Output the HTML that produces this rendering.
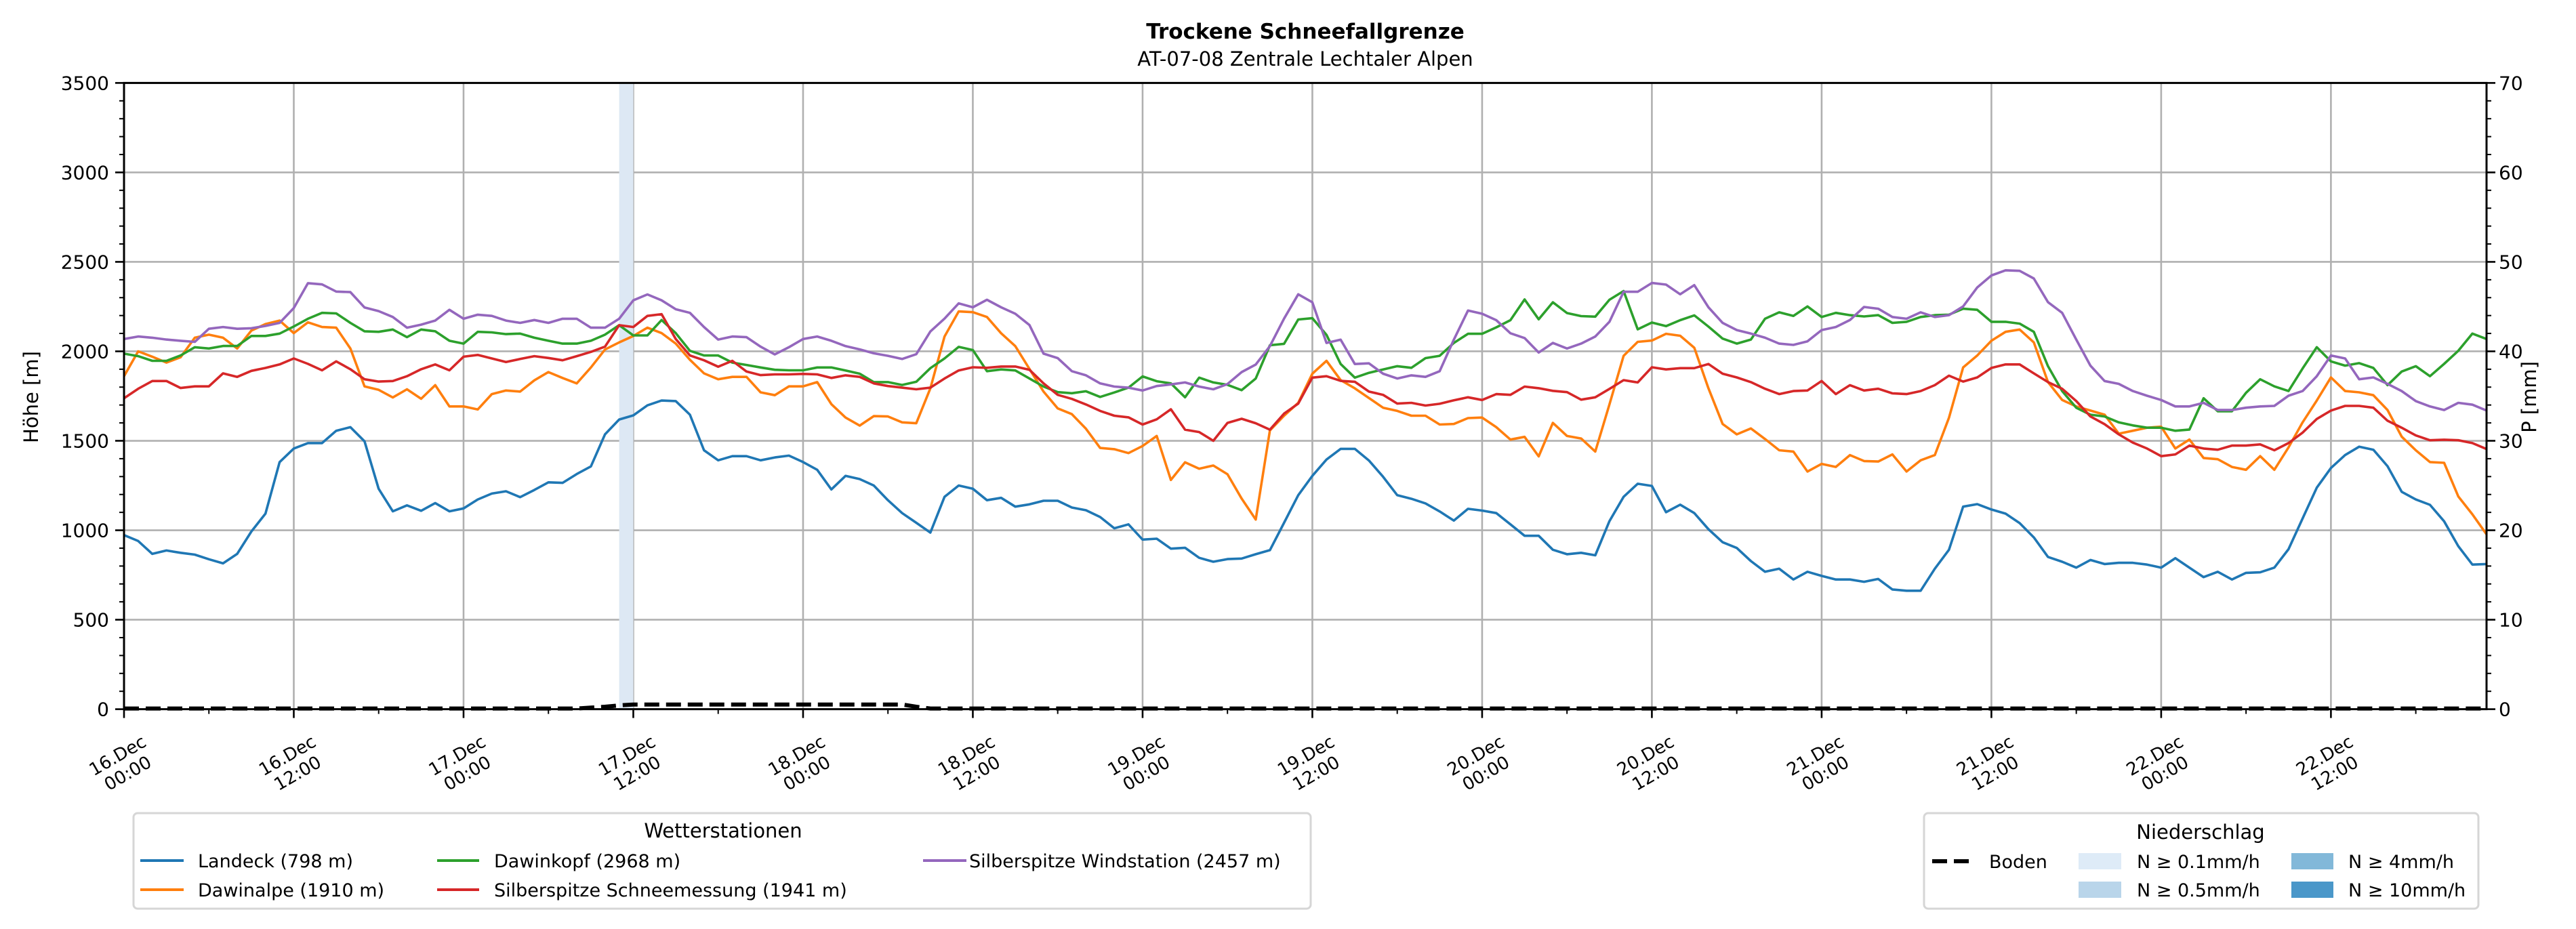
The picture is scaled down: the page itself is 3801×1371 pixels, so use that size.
<!DOCTYPE html>
<html><head><meta charset="utf-8">
<style>
html,body{margin:0;padding:0;background:#fff;}
svg{display:block;font-family:"DejaVu Sans","Liberation Sans",sans-serif;}
</style></head>
<body>
<svg id="chart" width="3801" height="1371" viewBox="0 0 3801 1371" xmlns="http://www.w3.org/2000/svg">
<rect x="0" y="0" width="3801" height="1371" fill="#fff"/>
<text x="1926" y="57" text-anchor="middle" font-size="31" font-weight="bold">Trockene Schneefallgrenze</text>
<text x="1926" y="97" text-anchor="middle" font-size="29">AT-07-08 Zentrale Lechtaler Alpen</text>
<g id="grid"></g>
<g id="precip"></g>
<g id="series"></g>
<g id="axes"></g>
<text transform="translate(56,586) rotate(-90)" text-anchor="middle" font-size="29">Höhe [m]</text>
<text transform="translate(3742,586) rotate(-90)" text-anchor="middle" font-size="29">P [mm]</text>

<g>
<rect x="197" y="1200" width="1737" height="141" rx="6" fill="#fff" stroke="#d6d6d6" stroke-width="3"/>
<text x="1067" y="1236" text-anchor="middle" font-size="29">Wetterstationen</text>
<g><line x1="207" y1="1270" x2="271" y2="1270" stroke="#1f77b4" stroke-width="4"/><text x="292" y="1280" font-size="27">Landeck (798 m)</text></g>
<g><line x1="207" y1="1313" x2="271" y2="1313" stroke="#ff7f0e" stroke-width="4"/><text x="292" y="1323" font-size="27">Dawinalpe (1910 m)</text></g>
<g><line x1="645" y1="1270" x2="707" y2="1270" stroke="#2ca02c" stroke-width="4"/><text x="729" y="1280" font-size="27">Dawinkopf (2968 m)</text></g>
<g><line x1="645" y1="1313" x2="707" y2="1313" stroke="#d62728" stroke-width="4"/><text x="729" y="1323" font-size="27">Silberspitze Schneemessung (1941 m)</text></g>
<g><line x1="1362" y1="1270" x2="1426" y2="1270" stroke="#9467bd" stroke-width="4"/><text x="1430" y="1280" font-size="27">Silberspitze Windstation (2457 m)</text></g>
</g>

<g>
<rect x="2839" y="1200" width="818" height="141" rx="6" fill="#fff" stroke="#d6d6d6" stroke-width="3"/>
<text x="3247" y="1238" text-anchor="middle" font-size="29">Niederschlag</text>
<g><line x1="2851" y1="1271" x2="2908" y2="1271" stroke="#000" stroke-width="6" stroke-dasharray="22 10"/><text x="2935" y="1281" font-size="27">Boden</text></g>
<g><rect x="3067" y="1259" width="63" height="24" fill="#deebf7"/><text x="3153" y="1281" font-size="27">N ≥ 0.1mm/h</text></g>
<g><rect x="3067" y="1301" width="63" height="24" fill="#b9d5ea"/><text x="3153" y="1323" font-size="27">N ≥ 0.5mm/h</text></g>
<g><rect x="3381" y="1259" width="62" height="24" fill="#82b8d9"/><text x="3465" y="1281" font-size="27">N ≥ 4mm/h</text></g>
<g><rect x="3381" y="1301" width="62" height="24" fill="#4a97c9"/><text x="3465" y="1323" font-size="27">N ≥ 10mm/h</text></g>
</g>
</svg>
<script>
// ---- data (hourly, starting 16.Dec 00:00) ----
const xTickLabels = ["16.Dec|00:00","16.Dec|12:00","17.Dec|00:00","17.Dec|12:00","18.Dec|00:00","18.Dec|12:00","19.Dec|00:00","19.Dec|12:00","20.Dec|00:00","20.Dec|12:00","21.Dec|00:00","21.Dec|12:00","22.Dec|00:00","22.Dec|12:00"];
const yTicks = [0,500,1000,1500,2000,2500,3000,3500];
const y2Ticks = [0,10,20,30,40,50,60,70];
const landeck = [973,940,868,887,874,864,838,815,868,993,1093,1381,1457,1487,1487,1556,1576,1497,1232,1106,1139,1109,1152,1106,1122,1172,1205,1218,1185,1225,1268,1265,1314,1357,1536,1619,1642,1698,1725,1722,1646,1447,1391,1414,1414,1391,1407,1417,1381,1338,1228,
1304,1286,1250,1168,1096,1042,987,1187,1250,1232,1168,1181,1132,1145,1165,1165,1127,1112,1074,1011,1033,948,953,897,902,846,824,839,842,866,889,1042,1196,1304,1395,1455,1455,1390,1299,1196,1176,1150,1105,1054,1120,1110,1096,1033,969,969,891,866,874,860,1051,1187,1260,1248,1101,1143,1096,1006,933,
901,828,768,785,725,768,745,725,725,712,728,669,662,662,785,891,1132,1146,1116,1093,1040,960,851,824,791,834,811,818,818,808,791,844,791,738,768,725,762,765,791,894,1066,1238,1348,1420,1467,1450,1358,1215,1172,1142,1050,911,808,811];
const dawinalpe = [1861,2000,1970,1937,1967,2076,2093,2076,2016,2116,2152,2172,2102,2162,2136,2132,2016,1804,1785,1742,1788,1735,1811,1692,1692,1675,1761,1781,1775,1838,1884,1851,1821,1910,2010,2050,2086,2132,2102,2043,1953,1877,1844,1857,1857,1771,1755,1804,1804,1828,1705,
1630,1585,1638,1636,1603,1598,1793,2083,2223,2219,2192,2101,2029,1902,1775,1681,1649,1567,1460,1453,1431,1471,1527,1281,1380,1344,1362,1313,1177,1060,1558,1640,1712,1875,1947,1839,1793,1739,1685,1667,1640,1640,1591,1594,1627,1630,1576,1507,1522,1413,1600,1527,1513,1440,1703,1975,2053,2060,2098,2087,2020,1793,1594,
1536,1569,1510,1447,1440,1328,1371,1354,1420,1387,1384,1424,1328,1391,1420,1629,1910,1977,2059,2109,2122,2050,1828,1728,1692,1669,1646,1540,1556,1573,1579,1457,1507,1404,1397,1354,1338,1414,1338,1463,1603,1725,1854,1778,1771,1755,1672,1523,1447,1381,1377,1189,1089,977];
const dawinkopf = [1987,1973,1947,1947,1977,2023,2016,2030,2030,2086,2086,2099,2139,2182,2215,2212,2159,2112,2109,2122,2079,2122,2112,2059,2043,2109,2106,2096,2099,2076,2059,2043,2043,2059,2093,2146,2089,2089,2175,2102,2003,1977,1977,1937,1924,1910,1897,1894,1894,1910,1910,
1893,1875,1828,1828,1812,1830,1906,1960,2025,2007,1889,1899,1893,1848,1803,1772,1766,1777,1745,1770,1797,1860,1833,1821,1743,1853,1826,1813,1783,1848,2034,2042,2178,2185,2092,1929,1853,1880,1899,1917,1908,1962,1975,2047,2098,2098,2134,2174,2290,2179,2274,2214,2197,2194,2288,2337,2123,2161,2141,2174,2201,2138,2071,
2043,2066,2182,2218,2198,2251,2192,2215,2202,2195,2202,2159,2165,2192,2202,2205,2238,2232,2165,2165,2155,2109,1917,1778,1685,1646,1636,1603,1586,1573,1573,1556,1563,1738,1665,1665,1768,1844,1804,1778,1904,2023,1944,1920,1934,1907,1811,1887,1917,1861,1930,2003,2099,2069];
const silberSchnee = [1738,1791,1834,1834,1795,1804,1804,1877,1857,1891,1907,1927,1960,1930,1894,1944,1900,1844,1831,1834,1861,1900,1927,1894,1970,1980,1960,1940,1957,1973,1963,1950,1973,1997,2026,2146,2136,2198,2208,2069,1977,1950,1914,1947,1887,1867,1871,1871,1874,1871,1851,
1866,1857,1821,1806,1797,1788,1797,1848,1893,1911,1908,1915,1915,1897,1821,1757,1734,1703,1667,1640,1631,1591,1620,1676,1562,1549,1500,1600,1623,1598,1562,1652,1708,1853,1861,1835,1830,1775,1757,1708,1712,1697,1707,1726,1743,1728,1761,1757,1803,1794,1779,1772,1730,1743,1790,1839,1826,1911,1899,1906,1906,1929,1875,
1854,1828,1791,1761,1778,1781,1834,1761,1811,1781,1791,1765,1761,1778,1811,1864,1831,1854,1907,1927,1927,1877,1828,1791,1722,1636,1593,1536,1490,1457,1414,1424,1473,1457,1450,1473,1473,1480,1447,1487,1546,1622,1669,1695,1695,1685,1612,1573,1530,1503,1506,1503,1487,1454];
const silberWind = [2069,2083,2076,2066,2059,2053,2126,2136,2126,2129,2142,2159,2242,2381,2374,2334,2331,2245,2225,2192,2132,2149,2172,2232,2182,2205,2198,2172,2159,2175,2159,2182,2182,2132,2132,2182,2285,2318,2285,2235,2215,2136,2066,2083,2079,2026,1983,2023,2069,2083,2059,
2029,2011,1989,1975,1957,1984,2111,2183,2268,2246,2288,2246,2210,2147,1987,1962,1889,1866,1821,1803,1797,1781,1806,1815,1826,1803,1788,1817,1884,1926,2029,2183,2319,2274,2047,2065,1929,1933,1875,1848,1866,1857,1889,2065,2228,2210,2174,2101,2074,1993,2047,2016,2043,2083,2165,2333,2333,2382,2373,2319,2370,2246,2159,
2119,2099,2076,2043,2036,2056,2119,2136,2175,2248,2238,2192,2182,2218,2192,2202,2251,2357,2424,2453,2450,2407,2275,2215,2066,1920,1834,1818,1778,1752,1728,1692,1692,1712,1672,1672,1685,1692,1695,1752,1778,1861,1977,1960,1844,1854,1818,1778,1722,1692,1672,1712,1702,1669];
const boden = [0,0,0,0,0,0,0,0,0,0,0,0,0,0,0,0,0,0,0,0,0,0,0,0,0,0,0,0,0,0,0,0,0,0.1,0.2,0.35,0.45,0.45,0.45,0.45,0.45,0.45,0.45,0.45,0.45,0.45,0.45,0.45,0.45,0.45,0.45,0.45,0.45,0.45,0.45,0.45,0.2];
const precipHourly = {35:0.2};

// ---- layout ----
const L=183, R=3669, T=122.4, B=1046.6, XMAX=167;
const NS="http://www.w3.org/2000/svg";
const xs = h => L + (R-L)*h/XMAX;
const ys = v => B - (B-T)*v/3500;
const y2s = v => B - (B-T)*v/70;
function mk(tag, attrs, parent){const e=document.createElementNS(NS,tag);for(const k in attrs)e.setAttribute(k,attrs[k]);parent.appendChild(e);return e;}
const grid=document.getElementById('grid'), axes=document.getElementById('axes'), series=document.getElementById('series'), precip=document.getElementById('precip');

// gridlines
yTicks.forEach(v=>{const g=mk('line',{x1:L,x2:R,y1:ys(v),y2:ys(v),stroke:'#b0b0b0','stroke-width':2.6},grid);

});
xTickLabels.forEach((lab,i)=>{const g=mk('line',{x1:xs(i*12),x2:xs(i*12),y1:T,y2:B,stroke:'#b0b0b0','stroke-width':2.6},grid);

});

// precipitation shading
const pColor = p => p>=10?'#4a97c9':p>=4?'#82b8d9':p>=0.5?'#b9d5ea':'#dde8f4';
Object.keys(precipHourly).forEach(k=>{const h=+k,p=precipHourly[k]; if(p<0.1)return;
const r=mk('rect',{x:xs(h),y:T,width:xs(h+1)-xs(h),height:B-T,fill:pColor(p)},precip);

});

// series
function line(arr, color, name){const pts=arr.map((v,i)=>xs(i).toFixed(1)+','+ys(v).toFixed(1)).join(' ');
const p=mk('polyline',{points:pts,fill:'none',stroke:color,'stroke-width':3.6,'stroke-linejoin':'round'},series);

}
line(landeck,'#1f77b4','line-landeck');
line(dawinalpe,'#ff7f0e','line-dawinalpe');
line(dawinkopf,'#2ca02c','line-dawinkopf');
line(silberSchnee,'#d62728','line-silberspitze-schnee');
line(silberWind,'#9467bd','line-silberspitze-wind');
const bv=[];for(let h=0;h<=XMAX;h++)bv.push(boden[h]||0);
const bp=mk('polyline',{points:bv.map((v,i)=>xs(i).toFixed(1)+','+(y2s(v)-1).toFixed(1)).join(' '),fill:'none',stroke:'#000','stroke-width':6,'stroke-dasharray':'22 10'},series);



// axes frame
const fr=mk('rect',{x:L,y:T,width:R-L,height:B-T,fill:'none',stroke:'#000','stroke-width':3},axes);


// left y ticks
for(let v=0;v<=3500;v+=100){const maj=v%500===0;mk('line',{x1:L,x2:L-(maj?13:7),y1:ys(v),y2:ys(v),stroke:'#000','stroke-width':maj?2.6:2},axes);}
yTicks.forEach(v=>{const t=mk('text',{x:L-22,y:ys(v)+10,'text-anchor':'end','font-size':28},axes);t.textContent=v;

});
// right y ticks
for(let v=0;v<=70;v+=2){const maj=v%10===0;mk('line',{x1:R,x2:R+(maj?13:7),y1:y2s(v),y2:y2s(v),stroke:'#000','stroke-width':maj?2.6:2},axes);}
y2Ticks.forEach(v=>{const t=mk('text',{x:R+18,y:y2s(v)+10,'text-anchor':'start','font-size':28},axes);t.textContent=v;

});
// x ticks
for(let h=0;h<=XMAX;h+=6){const maj=h%12===0;mk('line',{x1:xs(h),x2:xs(h),y1:B,y2:B+(maj?13:7),stroke:'#000','stroke-width':maj?2.6:2},axes);}
xTickLabels.forEach((lab,i)=>{const [a,b]=lab.split('|');const cx=xs(i*12)-2, cy=1128;
const t=mk('text',{transform:`translate(${cx},${cy}) rotate(-30)`,'text-anchor':'middle','font-size':26},axes);


const s1=mk('tspan',{x:0,y:-6},t);s1.textContent=a;const s2=mk('tspan',{x:0,y:24},t);s2.textContent=b;});
</script>
</body></html>
